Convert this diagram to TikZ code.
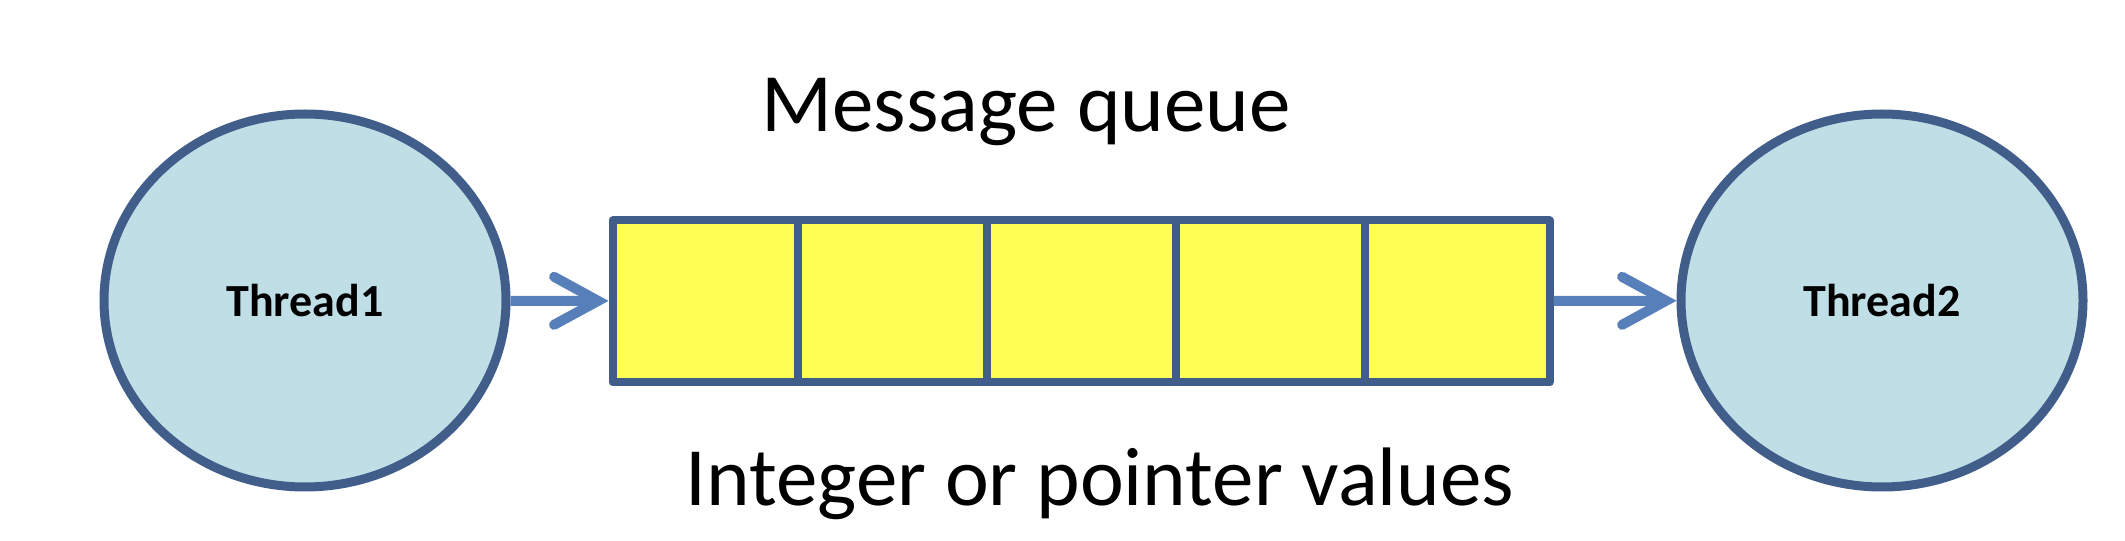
\documentclass[tikz,border=0pt]{standalone}
\usepackage{fontspec}
\setmainfont{Carlito}
\usetikzlibrary{shapes.geometric,arrows.meta,calc}
\definecolor{ellfill}{RGB}{191,222,230}
\definecolor{darkline}{RGB}{65,94,138}
\definecolor{qfill}{RGB}{255,255,85}
\definecolor{arrcol}{RGB}{87,127,186}
\begin{document}
\begin{tikzpicture}[x=0.75pt,y=-0.75pt,
  thread/.style={ellipse, draw=darkline, fill=ellfill, line width=6.75pt,
    minimum width=301.5pt, minimum height=279.75pt, inner sep=0pt,
    font=\fontsize{34.5pt}{40pt}\selectfont\bfseries},
  queuebox/.style={rectangle, draw=darkline, fill=qfill, line width=6pt,
    line join=round, minimum width=702.75pt, minimum height=121.5pt, inner sep=0pt},
  divider/.style={draw=darkline, line width=6pt},
  flow/.style={draw=arrcol, line width=7.5pt,
    -{Straight Barb[length=33pt,width=36pt,line cap=round]}},
  caption/.style={font=\fontsize{62.25pt}{75pt}\selectfont, anchor=base, inner sep=0pt}]
\useasboundingbox (0,0) rectangle (2125,541);
\node[thread] (t1) at (305,300.5) {Thread1};
\node[thread] (t2) at (1882,300.5) {Thread2};
\node[queuebox] (q) at (1081,301.5) {};
\foreach \f in {0.2,0.4,0.6,0.8}
  \draw[divider] ($(q.north west)!\f!(q.north east)$) -- ($(q.south west)!\f!(q.south east)$);
\draw[flow] (t1) -- (q);
\draw[flow] (q) -- (t2);
\node[caption] (title) at (1026,132) {Message queue};
\node[caption] (values) at (1100,506) {Integer or pointer values};
\end{tikzpicture}
\end{document}
